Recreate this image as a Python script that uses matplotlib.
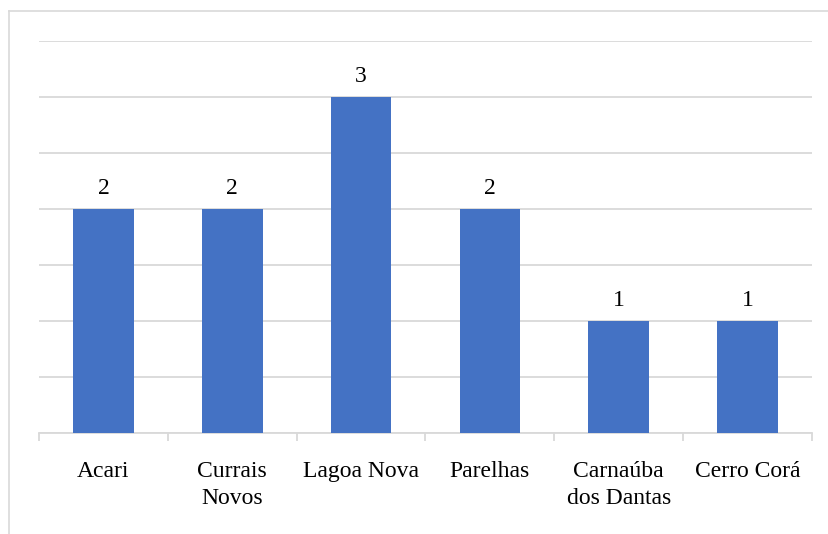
import matplotlib
matplotlib.use("Agg")
import matplotlib.pyplot as plt
from matplotlib.lines import Line2D

categories = ["Acari", "Currais\nNovos", "Lagoa Nova", "Parelhas", "Carnaúba\ndos Dantas", "Cerro Corá"]
values = [2, 2, 3, 2, 1, 1]

plt.rcParams['font.family'] = ['Liberation Serif', 'DejaVu Serif']

fig = plt.figure(figsize=(8.29, 5.34), dpi=100)
ax = fig.add_axes([39/829, 1-433/534, (812-39)/829, (433-41)/534])

x = list(range(len(categories)))
bars = ax.bar(x, values, width=0.47, color="#4472C4", zorder=3)
for xi, v in zip(x, values):
    ax.annotate(str(v), (xi, v), xytext=(0, 7), textcoords="offset points",
                ha="center", va="bottom", fontsize=17, color="#000000")

ax.set_xlim(-0.5, len(categories)-0.5)
ax.set_ylim(0, 3.5)
ax.set_yticks([0.5*i for i in range(8)])
ax.yaxis.grid(True, color="#d9d9d9", linewidth=1.3, zorder=0)
ax.tick_params(axis="y", length=0, labelleft=False)
ax.set_xticks(x)
ax.set_xticklabels(categories, fontsize=17, linespacing=1.32)
ax.tick_params(axis="x", length=0, pad=20.5)
ax.set_xticks([i - 0.5 for i in range(len(categories)+1)], minor=True)
ax.tick_params(axis="x", which="minor", length=6, width=1.3, color="#d9d9d9")
for s in ["top", "right", "left"]:
    ax.spines[s].set_visible(False)
ax.spines["bottom"].set_color("#d9d9d9")
ax.spines["bottom"].set_linewidth(1.3)
for lab in ax.get_xticklabels():
    lab.set_verticalalignment("top")

# outer frame (left and top edges only visible)
fig.add_artist(Line2D([9.5/829, 9.5/829], [0, 1-11/534], transform=fig.transFigure, color="#d9d9d9", linewidth=1.2))
fig.add_artist(Line2D([9.5/829, 1], [1-11/534, 1-11/534], transform=fig.transFigure, color="#d9d9d9", linewidth=1.2))

fig.savefig("out.png", dpi=100)
